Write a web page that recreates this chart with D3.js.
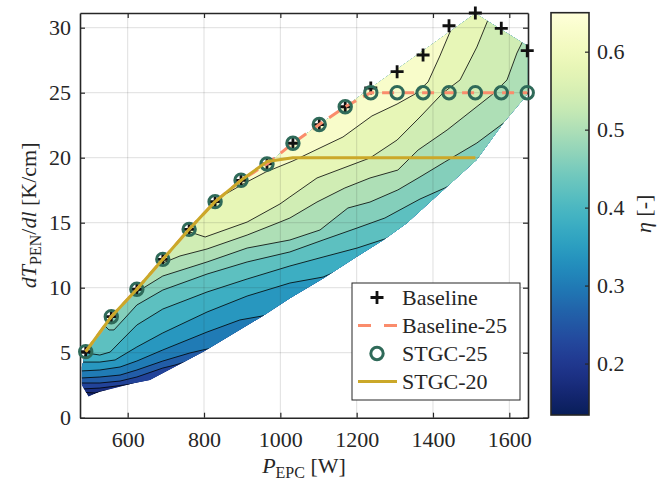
<!DOCTYPE html>
<html>
<head>
<meta charset="utf-8">
<script src="https://cdn.jsdelivr.net/npm/d3@7"></script>
<style>
  body { margin: 0; background: #fff; }
  #chart { width: 672px; height: 485px; }
  svg text { font-family: "Liberation Serif", "DejaVu Serif", serif; fill: #262626; }
</style>
</head>
<body>
<div id="chart"></div>
<script>
// measured points
const baselinePower = [490, 557, 624, 692, 761, 829, 897, 965, 1033, 1102, 1170, 1237, 1306, 1374, 1442, 1511, 1579, 1647];
const baselineGrad = [5.08, 7.77, 9.88, 12.18, 14.49, 16.62, 18.26, 19.52, 21.11, 22.55, 23.92, 25.36, 26.62, 27.9, 30.15, 31.13, 29.95, 28.23];
const baseline25Grad = [5.08, 7.77, 9.88, 12.18, 14.49, 16.62, 18.26, 19.52, 21.11, 22.55, 23.92, 25, 25, 25, 25, 25, 25, 25];
const stgc25Grad = [5.08, 7.77, 9.88, 12.18, 14.49, 16.62, 18.26, 19.52, 21.11, 22.55, 23.92, 25, 25, 25, 25, 25, 25, 25];
const stgc20Power = [490, 557, 624, 692, 761, 829, 897, 965, 1033, 1511];
const stgc20Grad = [5.08, 7.77, 9.88, 12.18, 14.49, 16.62, 18.26, 19.7, 20, 20];

// outline of the efficiency map
const domainPower = [480, 490, 557, 624, 692, 761, 829, 897, 965, 1033, 1102, 1170, 1237, 1511, 1648, 1648, 1584, 1514, 1427, 1331, 1270, 1200, 1113, 1025, 951, 798, 658, 615, 527, 497, 480];
const domainGrad = [3.92, 5.08, 7.77, 9.88, 12.18, 14.49, 16.62, 18.26, 19.52, 21.11, 22.55, 23.92, 25.36, 31.1, 28.6, 24.9, 22.65, 19.82, 17.52, 14.95, 13.67, 12.38, 10.72, 9.18, 7.77, 5.08, 2.9, 2.65, 2.0, 1.62, 2.52];

// efficiency contour levels and their lines [P, dT]
const etaRange = [0.134, 0.65];
const etaLevels = [0.16, 0.20, 0.24, 0.28, 0.32, 0.36, 0.40, 0.44, 0.48, 0.52, 0.56, 0.60];
const isolines = [
  [[484, 1.95], [514, 1.9], [545, 2.1]],
  [[480, 2.21], [527, 2.28], [580, 2.47], [625, 2.65]],
  [[475, 2.67], [527, 2.67], [580, 2.82], [624, 3.13], [692, 3.82], [724, 4.05], [758, 4.35]],
  [[475, 3.05], [527, 3.13], [580, 3.28], [624, 3.67], [692, 4.36], [763, 4.98], [797, 5.21], [820, 5.35]],
  [[475, 3.59], [527, 3.67], [580, 3.9], [624, 4.36], [692, 5.21], [808, 6.59], [894, 7.52], [952, 7.82], [973, 7.98]],
  [[475, 4.28], [527, 4.28], [567, 4.44], [624, 5.44], [692, 6.52], [808, 8.13], [913, 9.36], [1025, 10.36], [1112, 10.82], [1143, 11.21]],
  [[485, 5.28], [491, 4.98], [527, 4.82], [554, 5.05], [585, 5.98], [624, 7.13], [692, 8.36], [808, 9.67], [913, 10.67], [1025, 11.67], [1112, 12.36], [1201, 13.05], [1274, 13.75], [1300, 14.1]],
  [[530, 7.36], [551, 6.75], [564, 6.75], [593, 7.67], [624, 8.67], [692, 9.82], [808, 11.05], [913, 11.98], [1025, 12.75], [1112, 13.67], [1201, 14.59], [1274, 15.36], [1366, 16.82], [1431, 17.67], [1455, 18.05]],
  [[617, 9.9], [624, 9.67], [692, 10.9], [808, 11.98], [913, 13.05], [1025, 13.67], [1104, 14.44], [1177, 16.13], [1235, 16.59], [1308, 17.52], [1366, 18.52], [1431, 19.67], [1515, 21.13], [1589, 22.75], [1607, 23.36]],
  [[686, 12.3], [692, 11.9], [737, 12.44], [808, 12.98], [913, 14.05], [999, 15.05], [1025, 15.36], [1096, 16.59], [1169, 17.67], [1235, 18.44], [1308, 19.05], [1361, 20.59], [1437, 22.13], [1557, 24.9], [1594, 25.98], [1620, 28.05], [1633, 28.82], [1644, 29.67]],
  [[748, 14.5], [755, 14.36], [803, 13.9], [913, 15.05], [999, 16.44], [1025, 16.98], [1096, 18.44], [1235, 19.98], [1306, 21.36], [1366, 23.13], [1426, 24.98], [1471, 25.98], [1515, 28.51], [1544, 30.59], [1555, 31.52]],
  [[838, 17.4], [847, 17.05], [907, 18.05], [962, 18.9], [1033, 19.75], [1104, 20.75], [1164, 21.59], [1240, 23.21], [1306, 24.13], [1353, 24.9], [1387, 25.82], [1418, 27.82], [1450, 30.05], [1471, 32]]
];

const xTicks = [600, 800, 1000, 1200, 1400, 1600];
const yTicks = [0, 5, 10, 15, 20, 25, 30];
const etaTicks = [0.2, 0.3, 0.4, 0.5, 0.6];
const legendLabels = ["Baseline", "Baseline-25", "STGC-25", "STGC-20"];

const serif = '"Liberation Serif", "DejaVu Serif", serif';
const fontSize = "22px";
const subSize = "16px";
const axisColor = "#262626";
const plusColor = "#111";
const dashColor = "#fa8c6c";
const ringColor = "#2f6a59";
const goldColor = "#cba829";

const etaColor = (v) =>
  d3.interpolateYlGnBu(1 - (v - etaRange[0]) / (etaRange[1] - etaRange[0]));

const svg = d3.select("#chart").append("svg")
  .attr("width", 672).attr("height", 485)
  .attr("font-family", serif);

const x = d3.scaleLinear().domain([475, 1649]).range([80, 528]);
const y = d3.scaleLinear().domain([0, 31.13]).range([417.7, 13]);
const pxLine = d3.line().x((d) => x(d[0])).y((d) => y(d[1]));

drawMap();
drawGrid();
drawAxes();
drawSeries();
drawLegend();
drawColorbar();

svg.selectAll("text").style("font-family", serif);

function drawMap() {
  const outline = domainPower.map((p, i) => [p, domainGrad[i]]);
  svg.append("clipPath").attr("id", "mapClip")
    .append("path").attr("d", pxLine(outline) + "Z");

  const g = svg.append("g").attr("clip-path", "url(#mapClip)");
  g.append("path")
    .attr("d", pxLine(outline) + "Z")
    .attr("fill", etaColor(etaLevels[0]));

  // paint the region above each level, lowest first
  etaLevels.forEach((lv, i) => {
    const pts = isolines[i];
    const upper = i + 1 < etaLevels.length ? etaLevels[i + 1] : etaRange[1];
    const ring = pts.concat([
      [2000, pts[pts.length - 1][1]], [2000, 60], [0, 60], [0, pts[0][1]]
    ]);
    g.append("path")
      .attr("d", pxLine(ring) + "Z")
      .attr("fill", etaColor((lv + upper) / 2));
  });

  isolines.forEach((pts) => {
    g.append("path")
      .attr("d", pxLine(pts))
      .attr("fill", "none")
      .attr("stroke", "#000")
      .attr("stroke-width", 0.8);
  });
}

function drawGrid() {
  const g = svg.append("g")
    .attr("stroke", axisColor)
    .attr("stroke-opacity", 0.15)
    .attr("stroke-width", 1);
  g.selectAll(".gx").data(xTicks).enter().append("line")
    .attr("x1", (d) => x(d)).attr("x2", (d) => x(d))
    .attr("y1", y.range()[0]).attr("y2", y.range()[1]);
  g.selectAll(".gy").data(yTicks.slice(1)).enter().append("line")
    .attr("x1", x.range()[0]).attr("x2", x.range()[1])
    .attr("y1", (d) => y(d)).attr("y2", (d) => y(d));
}

function styleAxis(g) {
  g.attr("font-family", serif).attr("font-size", null);
  g.select(".domain").attr("stroke", axisColor).attr("stroke-width", 1.6);
  g.selectAll(".tick line").attr("stroke", axisColor).attr("stroke-width", 1.2);
  g.selectAll(".tick text").style("font-size", fontSize).attr("fill", axisColor);
}

function drawAxes() {
  const [x0, x1] = x.range();
  const [y0, y1] = y.range();

  svg.append("g")
    .attr("transform", `translate(0,${y0})`)
    .call(d3.axisBottom(x).tickValues(xTicks).tickSizeInner(-5).tickSizeOuter(0)
      .tickPadding(14).tickFormat(d3.format("d")))
    .call(styleAxis);
  svg.append("g")
    .attr("transform", `translate(0,${y1})`)
    .call(d3.axisTop(x).tickValues(xTicks).tickSizeInner(-5).tickSizeOuter(0).tickFormat(""))
    .call(styleAxis);
  svg.append("g")
    .attr("transform", `translate(${x0},0)`)
    .call(d3.axisLeft(y).tickValues(yTicks).tickSizeInner(-5).tickSizeOuter(0)
      .tickPadding(9).tickFormat(d3.format("d")))
    .call(styleAxis);
  svg.append("g")
    .attr("transform", `translate(${x1},0)`)
    .call(d3.axisRight(y).tickValues(yTicks).tickSizeInner(-5).tickSizeOuter(0).tickFormat(""))
    .call(styleAxis);

  const xl = svg.append("text")
    .attr("transform", `translate(${(x0 + x1) / 2},473)`)
    .attr("text-anchor", "middle")
    .style("font-size", fontSize);
  xl.append("tspan").attr("font-style", "italic").text("P");
  xl.append("tspan").attr("dy", 5).style("font-size", subSize).text("EPC");
  xl.append("tspan").attr("dy", -5).text(" [W]");

  const yl = svg.append("text")
    .attr("transform", `translate(36,${(y0 + y1) / 2}) rotate(-90)`)
    .attr("text-anchor", "middle")
    .style("font-size", fontSize);
  yl.append("tspan").attr("font-style", "italic").text("dT");
  yl.append("tspan").attr("dy", 5).style("font-size", subSize).text("PEN");
  yl.append("tspan").attr("dy", -5).text("/");
  yl.append("tspan").attr("font-style", "italic").text("dl");
  yl.append("tspan").text(" [K/cm]");
}

function plusPath(cx, cy, r) {
  return `M${cx - r},${cy}H${cx + r}M${cx},${cy - r}V${cy + r}`;
}

function drawSeries() {
  svg.append("g").selectAll("path").data(baselinePower).enter().append("path")
    .attr("d", (p, i) => plusPath(x(p), y(baselineGrad[i]), 6.5))
    .attr("stroke", plusColor)
    .attr("stroke-width", 2.8);

  const b25 = baselinePower.map((p, i) => [p, baseline25Grad[i]]);
  svg.append("path")
    .attr("d", pxLine(b25))
    .attr("fill", "none")
    .attr("stroke", dashColor)
    .attr("stroke-width", 3)
    .attr("stroke-dasharray", "12,8");

  svg.append("g").selectAll("circle").data(baselinePower).enter().append("circle")
    .attr("cx", (p) => x(p))
    .attr("cy", (p, i) => y(stgc25Grad[i]))
    .attr("r", 6.2)
    .attr("fill", "none")
    .attr("stroke", ringColor)
    .attr("stroke-width", 3);

  const s20 = stgc20Power.map((p, i) => [p, stgc20Grad[i]]);
  svg.append("path")
    .attr("d", pxLine(s20))
    .attr("fill", "none")
    .attr("stroke", goldColor)
    .attr("stroke-width", 3)
    .attr("stroke-linejoin", "round");
}

function drawLegend() {
  const g = svg.append("g");
  g.append("rect")
    .attr("x", 352).attr("y", 283).attr("width", 168).attr("height", 117)
    .attr("fill", "#fff").attr("stroke", axisColor).attr("stroke-width", 1);

  const rowY = (i) => 297.5 + i * 28;
  const sx = 377;

  g.append("path").attr("d", plusPath(sx, rowY(0), 6.5))
    .attr("stroke", plusColor).attr("stroke-width", 2.8);
  g.append("line").attr("x1", 358).attr("x2", 397).attr("y1", rowY(1)).attr("y2", rowY(1))
    .attr("stroke", dashColor).attr("stroke-width", 3).attr("stroke-dasharray", "13,13");
  g.append("circle").attr("cx", sx).attr("cy", rowY(2)).attr("r", 6.2)
    .attr("fill", "none").attr("stroke", ringColor).attr("stroke-width", 3);
  g.append("line").attr("x1", 358).attr("x2", 397).attr("y1", rowY(3)).attr("y2", rowY(3))
    .attr("stroke", goldColor).attr("stroke-width", 3);

  g.selectAll("text").data(legendLabels).enter().append("text")
    .attr("x", 402)
    .attr("y", (d, i) => rowY(i))
    .attr("dy", "0.35em")
    .style("font-size", fontSize)
    .text((d) => d);
}

function drawColorbar() {
  const cb = { x: 551, y: 12.7, w: 38, h: 402.3 };
  const c = d3.scaleLinear().domain(etaRange).range([cb.y + cb.h, cb.y]);

  const grad = svg.append("defs").append("linearGradient")
    .attr("id", "etaGrad").attr("x1", 0).attr("y1", 1).attr("x2", 0).attr("y2", 0);
  d3.range(0, 1.0001, 0.02).forEach((t) => {
    grad.append("stop")
      .attr("offset", t)
      .attr("stop-color", etaColor(etaRange[0] + t * (etaRange[1] - etaRange[0])));
  });

  svg.append("rect")
    .attr("x", cb.x).attr("y", cb.y).attr("width", cb.w).attr("height", cb.h)
    .attr("fill", "url(#etaGrad)");

  svg.append("g")
    .attr("transform", `translate(${cb.x + cb.w},0)`)
    .call(d3.axisRight(c).tickValues(etaTicks).tickSizeInner(-4).tickSizeOuter(0)
      .tickPadding(8).tickFormat(d3.format(".1f")))
    .call(styleAxis)
    .call((g) => g.select(".domain").remove());

  svg.append("rect")
    .attr("x", cb.x).attr("y", cb.y).attr("width", cb.w).attr("height", cb.h)
    .attr("fill", "none").attr("stroke", axisColor).attr("stroke-width", 1.6);

  const lab = svg.append("text")
    .attr("transform", `translate(651,${cb.y + cb.h / 2}) rotate(-90)`)
    .attr("text-anchor", "middle")
    .style("font-size", fontSize);
  lab.append("tspan").attr("font-style", "italic").text("η");
  lab.append("tspan").text(" [-]");
}
</script>
</body>
</html>
